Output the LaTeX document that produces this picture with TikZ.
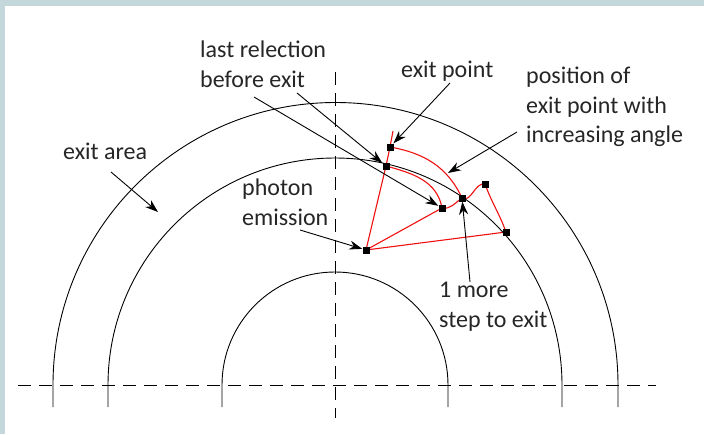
\documentclass[tikz,border=0pt]{standalone}
\usepackage{fontspec}
\setmainfont{Carlito}
\usetikzlibrary{arrows.meta,backgrounds}
\definecolor{frame}{HTML}{C4D8DC}
\definecolor{path}{HTML}{F01010}
\tikzset{
    >={Stealth[length=13pt,width=9pt]},
    wall/.style={line width=0.9pt},
    axis/.style={line width=1pt, dash pattern=on 13pt off 8pt},
    ray/.style={path, line width=1.1pt},
    leader/.style={->, line width=0.9pt},
    hit/.style={rectangle, fill=black, minimum size=7pt, inner sep=0pt},
    note/.style={align=left, anchor=north west, inner sep=0pt, font=\fontsize{24}{29.5}\selectfont, text=black!85}
}
\begin{document}
\begin{tikzpicture}[x=1pt, y=-1pt]
    \useasboundingbox (0,0) rectangle (704,434);
    \begin{scope}[on background layer]
        \fill[frame] (0,0) rectangle (704,434);
        \fill[white] (5,6) rectangle (704,434);
    \end{scope}

    % axes
    \coordinate (xl) at (18,385);
    \coordinate (xr) at (656,385);
    \coordinate (yt) at (335,72);
    \coordinate (yb) at (335,418);
    \draw[axis] (xl) -- (xr);
    \draw[axis] (yt) -- (yb);

    % walls
    \draw[wall] (53,407) -- (53,385) arc[start angle=180, end angle=360, radius=282.5] -- (618,407);
    \draw[wall] (108,407) -- (108,385) arc[start angle=180, end angle=360, radius=227] -- (562,407);
    \draw[wall] (222,407) -- (222,385) arc[start angle=180, end angle=360, radius=113] -- (448,407);

    % reflection points
    \node[hit] (em) at (366,250) {};
    \node[hit] (r1) at (386,166) {};
    \node[hit] (ex) at (390,147) {};
    \coordinate (ex2) at (393,131);
    \node[hit] (r2) at (442,208) {};
    \node[hit] (r3) at (462,198) {};
    \node[hit] (r4) at (485,184) {};
    \node[hit] (r5) at (506,232) {};

    % rays
    \begin{scope}[on background layer]
        \draw[ray] (em.center) -- (r1.center) -- (ex.center) -- (ex2);
        \draw[ray] (em.center) -- (r2.center);
        \draw[ray] (em.center) -- (r5.center);
        \draw[ray] (r1.center) to[out=-15, in=100] (r2.center);
        \draw[ray] (ex.center) to[out=-10, in=115] (r3.center);
        \draw[ray] (r2.center) to[out=-10, in=215] (r3.center);
        \draw[ray] (r3.center) to[out=-30, in=170] (r4.center);
        \draw[ray] (r4.center) to[out=-70, in=110] (r5.center);
    \end{scope}

    % labels
    \node[note] (lastref) at (200,41) {last relection\\before exit};
    \node[note] (exitpt) at (401,61) {exit point};
    \node[note] (posn) at (526,67) {position of\\exit point with\\increasing angle};
    \node[note] (area) at (63,143) {exit area};
    \node[note] (photon) at (242,179) {photon\\emission};
    \node[note] (more) at (439,282) {1 more\\step to exit};

    % leaders
    \coordinate (a1) at (111,172);
    \coordinate (a1t) at (158,212);
    \coordinate (a2) at (297,93);
    \coordinate (a3) at (254,97);
    \coordinate (a4) at (450,83);
    \coordinate (a5) at (517,132);
    \coordinate (a5t) at (448,173);
    \coordinate (a6) at (300,230);
    \coordinate (a7) at (470,282);
    \draw[leader] (a1) -- (a1t);
    \draw[leader] (a2) -- (r1);
    \draw[leader] (a3) -- (r2);
    \draw[leader] (a4) -- (ex);
    \draw[leader] (a5) -- (a5t);
    \draw[leader] (a6) -- (em);
    \draw[leader] (a7) -- (r3);
\end{tikzpicture}
\end{document}
